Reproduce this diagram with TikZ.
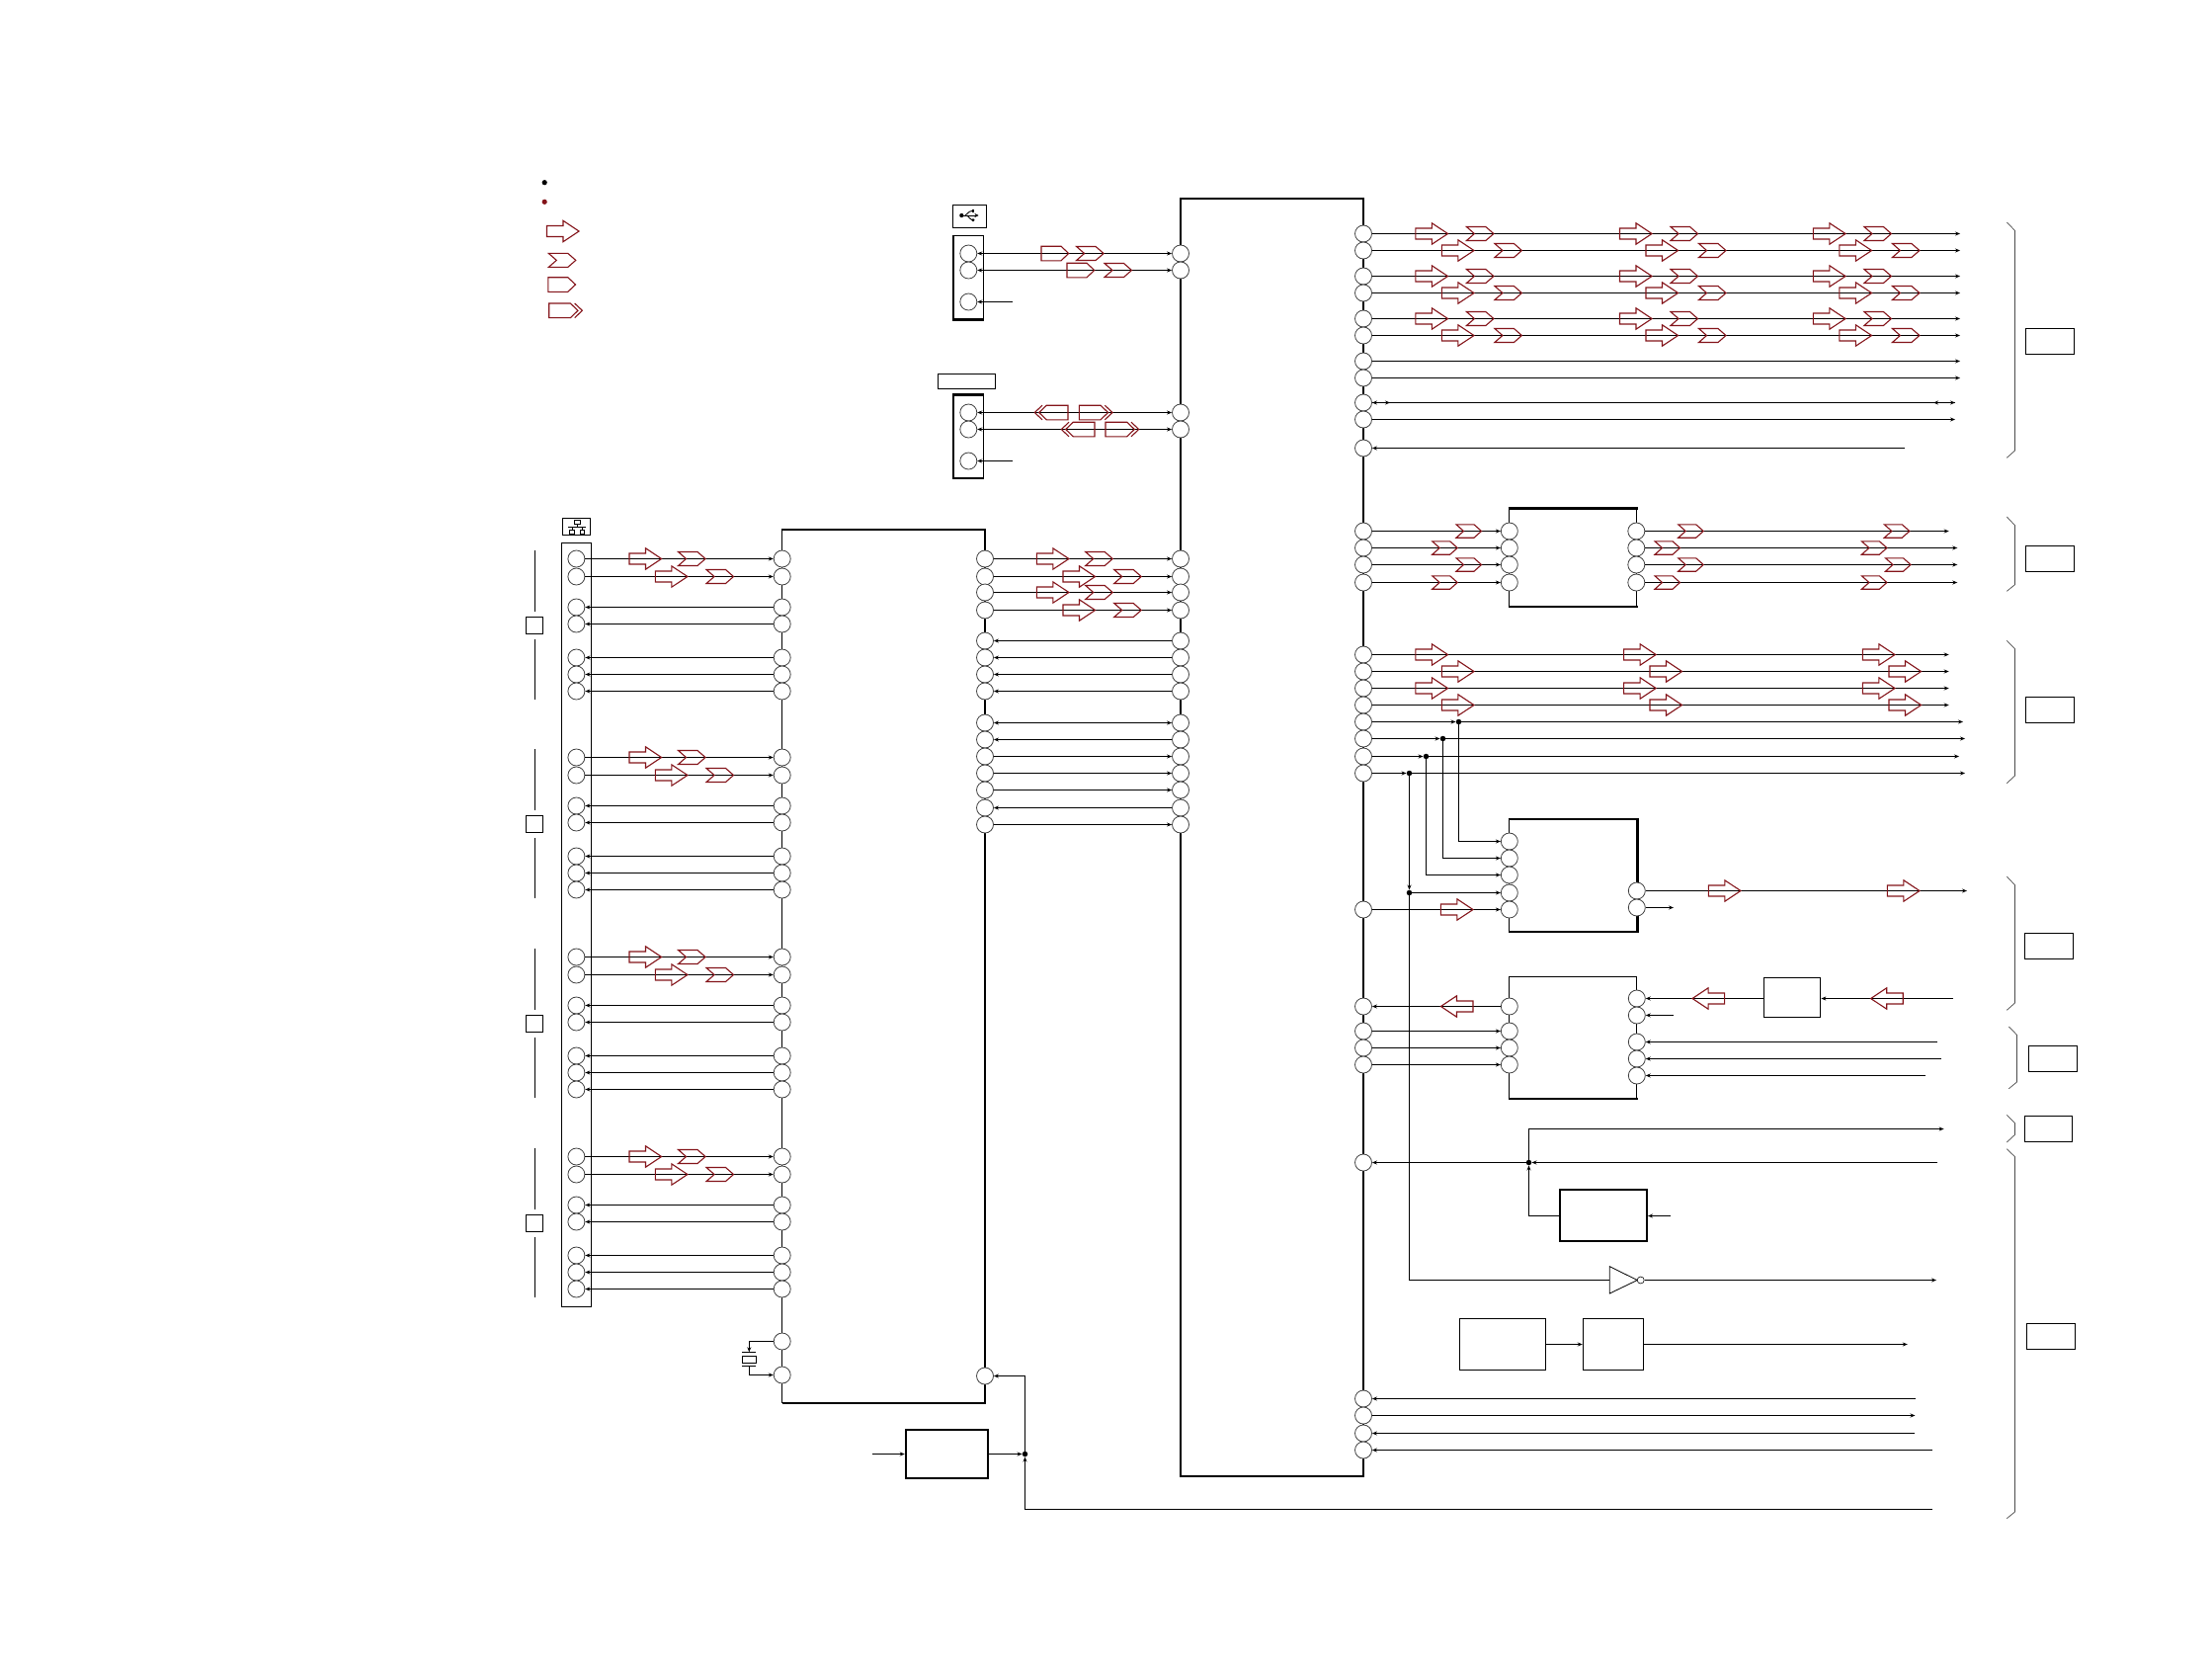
\documentclass[tikz,border=0pt]{standalone}
\usetikzlibrary{arrows.meta}
\definecolor{tagred}{HTML}{84141A}
\newcommand{\wire}[3]{\coordinate (x#2) at (#3,0); \coordinate (#2 e) at (x#2 |- #2); \draw[sig,#1] (#2) -- (#2 e);}
\newcommand{\bracemark}[6]{\draw[brc] (#1,#3) -- (#2,#4) -- (#2,#5) -- (#1,#6);}
\tikzset{
  pin/.style={circle,draw=black!75,fill=white,line width=.8pt,minimum size=17pt,inner sep=0pt},
  sig/.style={line width=1pt,draw=black},
  ar/.style={-{Stealth[length=5pt,width=4pt]}},
  la/.style={{Stealth[length=5pt,width=4pt]}-},
  bi/.style={{Stealth[length=5pt,width=4pt]}-{Stealth[length=5pt,width=4pt]}},
  tag/.style={draw=tagred,line width=1.1pt},
  brc/.style={draw=black!70,line width=.7pt},
  plain/.style={draw=black,line width=1pt},
  blk/.style={draw=black,line width=1.3pt},
  thk/.style={draw=black,line width=2.4pt},
  jn/.style={circle,fill=black,inner sep=0pt,minimum size=5.5pt},
  bigR/.pic={\draw[tag] (0,-5.5) -- (16.5,-5.5) -- (16.5,-10.7) -- (32.6,0) -- (16.5,10.7) -- (16.5,5.5) -- (0,5.5) -- cycle;},
  bigL/.pic={\draw[tag] (32.6,-5.5) -- (16.1,-5.5) -- (16.1,-10.7) -- (0,0) -- (16.1,10.7) -- (16.1,5.5) -- (32.6,5.5) -- cycle;},
  chev/.pic={\draw[tag] (0,-7) -- (19.5,-7) -- (27.5,0) -- (19.5,7) -- (0,7) -- (8,0) -- cycle;},
  chevs/.pic={\draw[tag] (0,-6.7) -- (18,-6.7) -- (25.5,0) -- (18,6.7) -- (0,6.7) -- (7.5,0) -- cycle;},
  pent/.pic={\draw[tag] (0,-7.3) -- (20,-7.3) -- (27.7,0) -- (20,7.3) -- (0,7.3) -- cycle;},
  pentd/.pic={\draw[tag] (0,-7.3) -- (21.7,-7.3) -- (29.3,0) -- (21.7,7.3) -- (0,7.3) -- cycle;
     \draw[tag] (26,-7.3) -- (33.7,0) -- (26,7.3);},
  pentdL/.pic={\draw[tag] (33.7,-7.3) -- (12,-7.3) -- (4.4,0) -- (12,7.3) -- (33.7,7.3) -- cycle;
     \draw[tag] (7.7,-7.3) -- (0,0) -- (7.7,7.3);},
}
\begin{document}
\begin{tikzpicture}[x=1pt,y=-1pt]
\useasboundingbox[fill=white] (0,0) rectangle (2239,1684);

% legend
\fill[black] (551.2,184.7) circle (2.6);
\fill[tagred] (551.2,204.3) circle (2.6);
\pic at (553.5,234) {bigR};
\pic at (555.3,263.4) {chev};
\pic at (554.8,288) {pent};
\pic at (555.7,314.3) {pentd};

% main blocks
\draw[blk] (1195,201) rectangle (1380,1494);
\draw[blk] (791.7,1420) -- (791.7,536) (997,536) -- (997,1420) -- (791.7,1420);
\draw[thk] (790.5,536) -- (998.2,536);

% IC blocks
\draw[blk] (1527.8,514.3) rectangle (1656.3,613.7);
\draw[thk] (1526.6,514.3) -- (1657.5,514.3) (1526.6,613.7) -- (1657.5,613.7);
\draw[blk] (1527.8,828.7) rectangle (1656.8,942.7);
\draw[thk] (1526.6,828.7) -- (1657.8,828.7) -- (1657.8,942.7) -- (1526.6,942.7);
\draw[blk] (1527.8,988.3) rectangle (1656.8,1111.7);
\draw[thk] (1526.6,1111.7) -- (1657.8,1111.7);

% USB / second connector
\draw[plain] (964.5,207.5) rectangle (998.5,230.5);
\draw[plain] (949.5,378.5) rectangle (1007.5,393.5);
\draw[blk] (965,238.3) rectangle (995.4,323.3);
\draw[thk] (964,323.3) -- (996.4,323.3);
\draw[blk] (965,399.3) rectangle (995.4,484);
\draw[thk] (964,484) -- (996.4,484) (964,399.3) -- (996.4,399.3);

% USB icon
\fill (973.3,218) circle (2.1);
\draw[line width=1pt,-{Stealth[length=4pt,width=4pt]}] (973.3,218) -- (990.5,218);
\draw[line width=.9pt] (977,218) .. controls (979.5,217) and (980,213.5) .. (984,213.5);
\draw[line width=.9pt] (979,218) .. controls (981,219) and (981.5,222.7) .. (984,222.7);
\fill (983.5,212) rectangle (986.3,214.8);
\fill (985,222.7) circle (1.6);

% LAN icon
\draw[plain] (569.5,524.5) rectangle (597.5,541.5);
\draw[line width=.8pt] (581.6,526.7) rectangle (587,530.5);
\draw[line width=.8pt] (576.7,536.7) rectangle (581.6,540);
\draw[line width=.8pt] (587,536.7) rectangle (591.6,540);
\draw[line width=.8pt] (584.3,530.5) -- (584.3,533.7) (575.4,533.7) -- (593,533.7) (579.2,533.7) -- (579.2,536.7) (589.3,533.7) -- (589.3,536.7);

% left connector body
\draw[plain] (568.7,549.3) rectangle (598.6,1322);

% ---------- USB rows
\node[pin] (U1) at (980.3,256.5) {};
\node[pin] (U2) at (980.3,273.5) {};
\node[pin] (U3) at (980.3,305.5) {};
\node[pin] (V1) at (980.3,417.5) {};
\node[pin] (V2) at (980.3,434.5) {};
\node[pin] (V3) at (980.3,466.5) {};
\node[pin] (M1) at (1195,256.5) {};
\node[pin] (M2) at (1195,273.5) {};
\node[pin] (M3) at (1195,417.5) {};
\node[pin] (M4) at (1195,434.5) {};
\draw[sig,bi] (U1) -- (M1);
\draw[sig,bi] (U2) -- (M2);
\draw[sig,bi] (V1) -- (M3);
\draw[sig,bi] (V2) -- (M4);
\wire{la}{U3}{1024.5}
\wire{la}{V3}{1024.5}
\pic at (1054,256.5) {pent};
\pic at (1089.6,256.5) {chev};
\pic at (1080,273.5) {pent};
\pic at (1118,273.5) {chev};
\pic at (1047.3,417.5) {pentdL};
\pic at (1092.3,417.5) {pentd};
\pic at (1074.3,434.5) {pentdL};
\pic at (1119,434.5) {pentd};

% ---------- left connector / left IC rows
\foreach \o [count=\k] in {0,201,403,605}{
  \foreach \r/\y in {a/565.5,b/583.5,c/614.5,d/631.5,e/665.5,f/682.5,g/699.5}{
    \node[pin] (C\k\r) at (583.4,{\y+\o}) {};
    \node[pin] (I\k\r) at (791.7,{\y+\o}) {};
  }
  \draw[sig,ar] (C\k a) -- (I\k a);
  \draw[sig,ar] (C\k b) -- (I\k b);
  \foreach \r in {c,d,e,f,g}{ \draw[sig,la] (C\k\r) -- (I\k\r); }
  \pic at (637,{565.5+\o}) {bigR};
  \pic at (686.5,{565.5+\o}) {chev};
  \pic at (663.3,{583.5+\o}) {bigR};
  \pic at (715,{583.5+\o}) {chev};
  \draw[plain] (541.5,{557+\o}) -- (541.5,{618.7+\o});
  \draw[plain] (541.5,{647+\o}) -- (541.5,{707.7+\o});
  \draw[plain] (532.5,{624.5+\o}) rectangle (549.5,{641.5+\o});
}

% ---------- left IC <-> main
\foreach \n/\y/\s in {1/565.5/ar,2/583.5/ar,3/599.5/ar,4/617.5/ar,5/648.5/la,6/665.5/la,7/682.5/la,8/699.5/la,9/731.5/bi,10/748.5/la,11/765.5/ar,12/782.5/ar,13/799.5/ar,14/817.5/la,15/834.5/ar}{
  \node[pin] (P\n) at (997,\y) {};
  \node[pin] (Q\n) at (1195,\y) {};
  \draw[sig,\s] (P\n) -- (Q\n);
}
\foreach \a/\b in {565.5/583.5,599.5/617.5}{
  \pic at (1049.3,\a) {bigR};
  \pic at (1098.7,\a) {chev};
  \pic at (1076,\b) {bigR};
  \pic at (1127.7,\b) {chev};
}

% ---------- crystal
\node[pin] (X1) at (791.7,1357.5) {};
\node[pin] (X2) at (791.7,1391.5) {};
\coordinate (xt) at (758.3,1368.3);
\coordinate (xb) at (758.3,1382.7);
\draw[sig,ar] (X1) -- (758.3,1357.5) -- (xt);
\draw[sig,ar] (xb) |- (X2);
\draw[line width=.9pt] (751,1368.3) -- (765,1368.3) (751,1382.7) -- (765,1382.7);
\draw[line width=.9pt] (751.7,1372.3) rectangle (765.7,1379.3);

% ---------- reset box
\node[pin] (Y1) at (997,1392.5) {};
\node[draw=black,line width=2pt,minimum width=83.6pt,minimum height=49.3pt,inner sep=0pt] (RB) at (958.5,1471.5) {};
\node[jn] (J0) at (1037.5,1471.5) {};
\coordinate (rbin) at (883,1471.5);
\coordinate (corner0) at (1037.5,1392.5);
\coordinate (corner1) at (1037.5,1527.5);
\coordinate (far0) at (1956.3,1527.5);
\draw[sig,ar] (rbin) -- (RB);
\draw[sig,ar] (RB) -- (J0);
\draw[sig,la] (Y1) -- (corner0) -- (J0);
\draw[sig,la] (J0) -- (corner1) -- (far0);

% ---------- right pins
\foreach \n/\y in {1/236.5,2/253.5,3/279.5,4/296.5,5/322.5,6/339.5,7/365.5,8/382.5,9/407.5,10/424.5,11/453.5,
  12/537.5,13/554.5,14/571.5,15/589.5,16/662.5,17/679.5,18/696.5,19/713.5,20/730.5,21/747.5,22/765.5,23/782.5,
  24/920.5,25/1018.5,26/1043.5,27/1060.5,28/1077.5,29/1176.5,30/1415.5,31/1432.5,32/1450.5,33/1467.5}{
  \node[pin] (R\n) at (1380,\y) {};
}
\foreach \n in {1,...,8}{ \wire{ar}{R\n}{1984} }
\wire{bi}{R9}{1979}
\coordinate (k1) at (1407,407.5);
\coordinate (k2) at (1957,407.5);
\draw[sig,ar] (R9) -- (k1);
\draw[sig,la] (k2) -- (R9 e);
\wire{ar}{R10}{1979}
\wire{la}{R11}{1928}
\foreach \a/\b in {236.5/253.5,279.5/296.5,322.5/339.5}{
  \foreach \x in {1432.9,1639.5,1835.4}{
    \pic at (\x,\a) {bigR};
    \pic at ({\x+51.5},\a) {chev};
    \pic at ({\x+26.5},\b) {bigR};
    \pic at ({\x+80},\b) {chev};
  }
}

% ---------- IC2 (four in, four out)
\foreach \n/\y/\e/\m in {1/537.5/1972.7/12,2/554.5/1981.3/13,3/571.5/1981.3/14,4/589.5/1981.3/15}{
  \node[pin] (A\n) at (1527.8,\y) {};
  \node[pin] (B\n) at (1656.3,\y) {};
  \draw[sig,ar] (R\m) -- (A\n);
  \wire{ar}{B\n}{\e}
}
\foreach \y/\a/\b/\c in {537.5/1474/1698.7/1907.3,554.5/1449.7/1675/1884.4,571.5/1474/1698.7/1908.5,589.5/1449.7/1675/1884.4}{
  \pic at (\a,\y) {chevs};
  \pic at (\b,\y) {chevs};
  \pic at (\c,\y) {chevs};
}

% ---------- group 3
\foreach \n/\e in {16/1972.7,17/1972.7,18/1972.7,19/1972.7}{ \wire{ar}{R\n}{\e} }
\foreach \y/\a/\b/\c in {662.5/1432.9/1643.6/1885.4,679.5/1459.4/1670/1912,696.5/1432.9/1643.6/1885.4,713.5/1459.4/1670/1912}{
  \pic at (\a,\y) {bigR};
  \pic at (\b,\y) {bigR};
  \pic at (\c,\y) {bigR};
}
% junctions
\foreach \n/\r/\x/\y/\e in {1/20/1476.5/730.5/1987,2/21/1460.5/747.5/1989,3/22/1443.5/765.5/1983,4/23/1426.5/782.5/1989}{
  \node[jn] (D\n) at (\x,\y) {};
  \draw[sig,ar] (R\r) -- (D\n);
  \wire{ar}{D\n}{\e}
}
% IC3
\foreach \n/\y in {1/851.5,2/868.5,3/885.5,4/903.5,5/920.5}{ \node[pin] (E\n) at (1527.8,\y) {}; }
\node[pin] (F1) at (1656.8,901.5) {};
\node[pin] (F2) at (1656.8,918.5) {};
\node[jn] (D5) at (1426.5,903.5) {};
\foreach \n/\d in {1/1,2/2,3/3}{
  \draw[line width=.85pt,ar] (D\d) |- (E\n);
}
\draw[sig,ar] (D4) -- (D5);
\draw[sig,ar] (D5) -- (E4);
\draw[sig,ar] (R24) -- (E5);
\pic at (1458.4,920.5) {bigR};
\wire{ar}{F1}{1991}
\wire{ar}{F2}{1694}
\pic at (1729.3,901.5) {bigR};
\pic at (1910.4,901.5) {bigR};

% IC4
\foreach \n/\y in {1/1018.5,2/1043.5,3/1060.5,4/1077.5}{ \node[pin] (G\n) at (1527.8,\y) {}; }
\foreach \n/\y in {1/1010.5,2/1027.5,3/1054.5,4/1071.5,5/1088.5}{ \node[pin] (H\n) at (1656.8,\y) {}; }
\draw[sig,ar] (G1) -- (R25);
\pic at (1458.4,1018.5) {bigL};
\draw[sig,ar] (R26) -- (G2);
\draw[sig,ar] (R27) -- (G3);
\draw[sig,ar] (R28) -- (G4);
\node[draw=black,line width=1.5pt,minimum width=57.2pt,minimum height=39.6pt,inner sep=0pt] (SB) at (1814,1009.5) {};
\draw[sig,ar] (SB.west |- H1) -- (H1);
\pic at (1713,1010.5) {bigL};
\coordinate (sbi) at (1976.7,1010.5);
\draw[sig,ar] (sbi) -- (SB.east |- sbi);
\pic at (1893.6,1010.5) {bigL};
\wire{la}{H2}{1694}
\wire{la}{H3}{1961}
\wire{la}{H4}{1965}
\wire{la}{H5}{1949}

% power tree
\node[jn] (D6) at (1547.5,1176.5) {};
\coordinate (p1) at (1961,1176.5);
\draw[sig,ar] (p1) -- (D6);
\draw[sig,ar] (D6) -- (R29);
\coordinate (t0) at (1547.5,1142.5);
\coordinate (t1) at (1967.6,1142.5);
\draw[sig,ar] (D6) -- (t0) -- (t1);
\node[draw=black,line width=2pt,minimum width=88.2pt,minimum height=52.3pt,inner sep=0pt] (PB) at (1622.9,1229.9) {};
\coordinate (pc) at (1547.5,1230.5);
\draw[sig,ar] (PB.west |- pc) -- (pc) -- (D6);
\coordinate (pin) at (1691,1230.5);
\draw[sig,ar] (pin) -- (PB.east |- pin);

% inverter
\coordinate (invi) at (1629.3,1295.5);
\coordinate (invc) at (1426.5,1295.5);
\draw[sig] (D5) -- (invc) -- (invi);
\draw[line width=.8pt] (1629.3,1281.7) -- (1657.3,1295.5) -- (1629.3,1309) -- cycle;
\node[circle,draw=black,fill=white,line width=.6pt,minimum size=7pt,inner sep=0pt] (inv) at (1660.7,1295.5) {};
\wire{ar}{inv}{1960}

% bottom boxes
\node[draw=black,line width=1pt,minimum width=86.7pt,minimum height=52pt,inner sep=0pt] (BX1) at (1521.1,1360.5) {};
\node[draw=black,line width=.8pt,minimum width=61.3pt,minimum height=52pt,inner sep=0pt] (BX2) at (1632.8,1360.5) {};
\draw[sig,ar] (BX1) -- (BX2);
\wire{ar}{BX2}{1930.8}

% bottom rows
\wire{la}{R30}{1938.5}
\wire{ar}{R31}{1938.5}
\wire{la}{R32}{1938}
\wire{la}{R33}{1955.8}

% braces and labels
\bracemark{2031.3}{2039.5}{225}{233.3}{456}{463.3}
\bracemark{2031.3}{2039.5}{523}{531.7}{591.7}{598.3}
\bracemark{2031.3}{2039.5}{648.3}{656.7}{785}{792.7}
\bracemark{2031.3}{2039.5}{887}{895.7}{1015}{1022.3}
\bracemark{2033.4}{2041.5}{1039}{1047.3}{1095}{1101.7}
\bracemark{2031.3}{2039.5}{1128.3}{1136.7}{1148.3}{1156}
\bracemark{2031.3}{2039.5}{1162.7}{1170.7}{1530}{1536.7}
\draw[plain] (2050.7,332.3) rectangle (2099.7,358.3);
\draw[plain] (2050.7,552.3) rectangle (2099.7,578.3);
\draw[plain] (2050.7,705.3) rectangle (2099.7,731.3);
\draw[plain] (2049.7,944.7) rectangle (2098.7,970.3);
\draw[plain] (2053.3,1058.3) rectangle (2102.2,1084.3);
\draw[plain] (2049.7,1129.3) rectangle (2097.7,1155.3);
\draw[plain] (2051.7,1339.3) rectangle (2100.7,1365.3);
\end{tikzpicture}
\end{document}
